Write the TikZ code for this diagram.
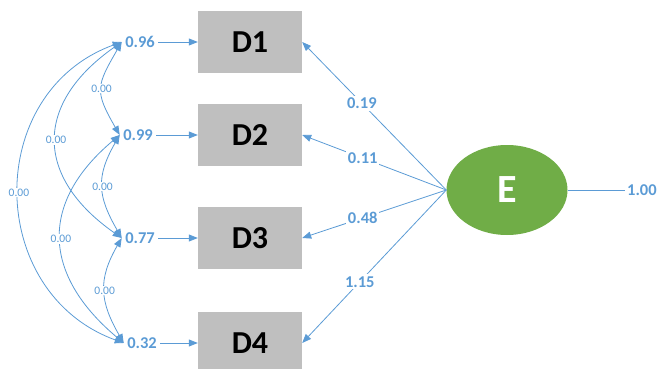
\documentclass[tikz,border=0pt]{standalone}
\usepackage{fontspec}
\setmainfont{Carlito}
\usetikzlibrary{shapes,arrows.meta,positioning}
\definecolor{lineblue}{HTML}{5B9BD5}
\definecolor{boxgray}{HTML}{BFBFBF}
\definecolor{egreen}{HTML}{70AD47}

\begin{document}
\begin{tikzpicture}[x=1pt,y=-1pt,>={Triangle[length=9pt,width=7pt]},
  every node/.append style={text depth=0}]
  \tikzstyle{box} = [fill=boxgray,minimum width=104pt,minimum height=62pt,font=\bfseries\fontsize{32}{32}\selectfont]
  \tikzstyle{var} = [text=lineblue,font=\bfseries\fontsize{16.5}{16.5}\selectfont]
  \tikzstyle{load} = [var,fill=white,inner sep=2pt]
  \tikzstyle{cov} = [text=lineblue,fill=white,inner sep=1pt,font=\fontsize{11.5}{11.5}\selectfont]
  \tikzstyle{conn} = [draw=lineblue,line width=0.8pt]
  \useasboundingbox (0,0) rectangle (658,369);
  % observed
  \node (d1) [box] at (250,42) {D1};
  \node (d2) [box] at (250,135) {D2};
  \node (d3) [box] at (250,238) {D3};
  \node (d4) [box] at (250,343) {D4};
  % error variances
  \node (v1) [var] at (140,42) {0.96};
  \node (v2) [var] at (138,135) {0.99};
  \node (v3) [var] at (140,238) {0.77};
  \node (v4) [var] at (142,343) {0.32};
  \foreach \i in {1,...,4}
    \draw[conn,->] (v\i) -- (d\i);
  % latent
  \node (e) [ellipse,fill=egreen,minimum width=121pt,minimum height=90pt,text=white,
    font=\bfseries\fontsize{40}{40}\selectfont] at (507,190) {E};
  \node (res) [var,anchor=west,inner sep=2pt] at (625,190) {1.00};
  \draw[conn] (e.east) -- (res);
  \draw[conn,->] (e.west) -- node[load,pos=0.586] {0.19} (d1.east);
  \draw[conn,->] (e.west) -- node[load,pos=0.58] {0.11} (d2.east);
  \draw[conn,->] (e.west) -- node[load,pos=0.58] {0.48} (d3.east);
  \draw[conn,->] (e.west) -- node[load,pos=0.6] {1.15} (d4.east);
  % covariances
  \draw[conn,<->] (v1.west) to[out=240,in=120,looseness=1.4] node[cov] {0.00} (v2.west);
  \draw[conn,<->] (v1.west) to[out=215,in=145,looseness=1.4] node[cov] {0.00} (v3.west);
  \draw[conn,<->] (v1.west) to[out=200,in=160,looseness=1.25] node[cov] {0.00} (v4.west);
  \draw[conn,<->] (v2.west) to[out=240,in=120,looseness=1.2] node[cov] {0.00} (v3.west);
  \draw[conn,<->] (v2.west) to[out=220,in=140,looseness=1.3] node[cov] {0.00} (v4.west);
  \draw[conn,<->] (v3.west) to[out=240,in=120,looseness=1.17] node[cov] {0.00} (v4.west);
\end{tikzpicture}
\end{document}
